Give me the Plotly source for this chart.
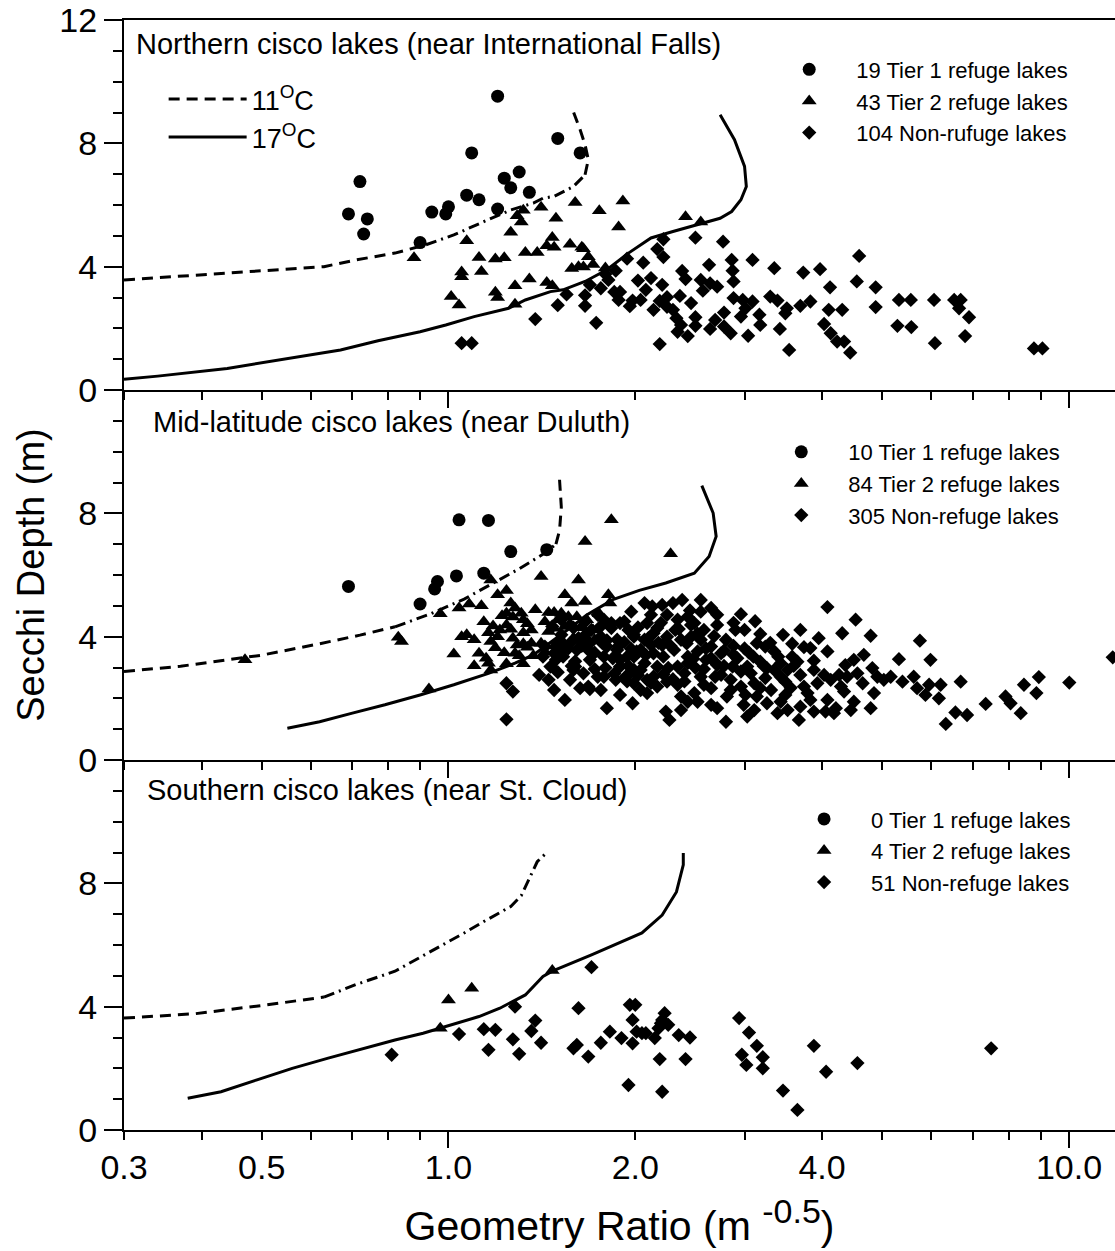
import math
import plotly.graph_objects as go

FONT = "Liberation Sans, Arial, Helvetica, sans-serif"

# ---------------- axis / tick data ----------------
x_min, x_max = 0.3, 11.86
y_min, y_max = 0, 12
x_tick_vals = [0.3, 0.5, 1, 2, 4, 10]
x_tick_text = ["0.3", "0.5", "1.0", "2.0", "4.0", "10.0"]
x_minor_vals = [0.4, 0.6, 0.7, 0.8, 0.9, 3, 5, 6, 7, 8, 9]
x_long_ticks = [1, 10]
y_tick_top = [0, 4, 8, 12]
y_tick_low = [0, 4, 8]

panel_titles = ["Northern cisco lakes (near International Falls)",
                "Mid-latitude cisco lakes (near Duluth)",
                "Southern cisco lakes (near St. Cloud)"]
legend_names = [["19 Tier 1 refuge lakes", "43 Tier 2 refuge lakes", "104 Non-rufuge lakes"],
                ["10 Tier 1 refuge lakes", "84 Tier 2 refuge lakes", "305 Non-refuge lakes"],
                ["0 Tier 1 refuge lakes", "4 Tier 2 refuge lakes", "51 Non-refuge lakes"]]
curve_names = ["11<sup>O</sup>C", "17<sup>O</sup>C"]

# ---------------- TOP panel (Northern) ----------------
top_t1_x = [0.69, 0.72, 0.74, 0.73, 0.94, 0.99, 1.00, 0.90, 1.07, 1.12, 1.09, 1.20, 1.23, 1.26, 1.30, 1.35, 1.20, 1.50, 1.63]
top_t1_y = [5.71, 6.76, 5.55, 5.06, 5.77, 5.71, 5.94, 4.78, 6.32, 6.17, 7.69, 9.53, 6.87, 6.56, 7.07, 6.41, 5.87, 8.16, 7.69]

top_t2_x = [0.88, 1.07, 1.05, 1.12, 1.13, 1.19, 1.23, 1.26, 1.29, 1.32, 1.31, 1.41, 1.49, 1.60, 1.75, 1.91, 1.88,
            1.33, 1.39, 1.44, 1.47, 1.48, 1.57, 1.64, 1.65, 1.68, 1.58, 1.62, 1.65, 1.71, 1.01, 1.04, 1.19, 1.20,
            1.28, 1.35, 1.44, 1.47, 1.28, 2.41, 2.55, 1.79, 1.05]
top_t2_y = [4.29, 4.84, 3.83, 4.30, 3.84, 4.25, 4.29, 5.12, 5.65, 5.83, 5.45, 5.93, 5.57, 6.08, 5.81, 6.13, 5.29,
            4.46, 4.46, 4.68, 4.95, 4.63, 4.73, 4.63, 4.58, 4.32, 3.94, 4.00, 3.99, 4.07, 3.03, 2.76, 3.17, 3.00,
            3.38, 3.60, 3.49, 3.38, 2.78, 5.62, 5.45, 3.96, 3.67]

top_nr_x = [1.05, 1.09, 1.38, 1.50, 1.55, 1.66, 1.66, 1.73, 1.76, 1.79, 1.86, 1.85, 1.89, 1.96, 1.94,
            2.22, 2.17, 2.22, 2.50, 2.77, 2.06, 2.02, 2.12, 2.21, 1.98, 2.19, 2.25, 2.36, 2.25, 2.30, 2.33,
            2.34, 2.43, 2.19, 2.38, 2.41, 2.63, 2.57, 2.64, 2.71, 2.50, 2.50, 2.64, 2.78, 2.86, 2.87, 2.88,
            3.09, 2.88, 3.01, 2.96, 3.09, 2.78, 2.85, 3.04, 3.17, 3.35, 3.30, 3.39, 3.51, 3.49, 3.42, 3.54,
            3.69, 3.83, 3.73, 3.97, 4.12, 4.10, 4.31, 4.03, 4.13, 4.23, 4.34, 4.44, 4.59, 4.55, 4.88, 4.88,
            5.32, 5.56, 6.06, 6.53, 6.69, 6.65, 6.90, 5.29, 5.57, 6.80, 6.08, 8.78, 9.06,
            1.69, 1.81, 2.08, 2.14, 2.46, 2.69, 3.18, 1.88, 2.04, 2.55, 2.98, 2.37]
top_nr_y = [1.52, 1.52, 2.30, 2.75, 3.10, 3.07, 2.73, 2.18, 3.30, 3.76, 3.87, 3.18, 3.18, 2.72, 4.26,
            4.89, 4.57, 4.31, 4.94, 4.81, 4.13, 3.55, 3.63, 3.41, 2.90, 2.89, 3.01, 3.05, 2.70, 2.60, 2.33,
            1.89, 1.75, 1.49, 3.86, 3.60, 4.06, 3.22, 3.46, 3.35, 2.36, 2.08, 1.98, 2.51, 4.22, 3.87, 3.52,
            4.22, 2.98, 2.65, 2.38, 2.87, 2.06, 1.84, 1.76, 2.44, 3.95, 3.03, 2.90, 2.65, 2.49, 1.98, 1.30,
            2.73, 2.87, 3.81, 3.92, 3.33, 2.60, 2.60, 2.14, 1.84, 1.57, 1.57, 1.21, 4.35, 3.52, 3.33, 2.69,
            2.92, 2.92, 2.92, 2.92, 2.92, 2.65, 2.36, 2.08, 2.04, 1.75, 1.52, 1.35, 1.35,
            3.41, 3.57, 3.25, 2.60, 2.82, 2.27, 2.11, 2.92, 2.92, 3.57, 2.92, 2.11]

top_c11_x = [0.30, 0.40, 0.51, 0.63, 0.71, 0.82, 0.92, 1.02, 1.14, 1.26, 1.37, 1.42, 1.48, 1.59, 1.66, 1.68, 1.66, 1.63, 1.59]
top_c11_y = [3.57, 3.73, 3.87, 4.00, 4.22, 4.44, 4.71, 5.03, 5.46, 5.84, 6.06, 6.22, 6.28, 6.60, 6.98, 7.47, 7.95, 8.44, 9.02]
top_c17_x = [0.30, 0.34, 0.44, 0.57, 0.67, 0.77, 0.90, 0.99, 1.10, 1.25, 1.33, 1.46, 1.53, 1.66, 1.80, 1.95, 2.12,
             2.30, 2.56, 2.74, 2.86, 2.96, 3.02, 3.00, 2.89, 2.74]
top_c17_y = [0.35, 0.45, 0.70, 1.08, 1.30, 1.60, 1.89, 2.11, 2.38, 2.65, 2.92, 3.19, 3.25, 3.52, 3.90, 4.44, 4.93,
             5.14, 5.39, 5.57, 5.79, 6.17, 6.60, 7.25, 8.12, 8.93]

# ---------------- MIDDLE panel (Duluth) ----------------
mid_t1_x = [0.69, 0.90, 0.95, 0.96, 1.03, 1.04, 1.16, 1.14, 1.26, 1.44]
mid_t1_y = [5.63, 5.06, 5.55, 5.79, 5.97, 7.79, 7.77, 6.06, 6.76, 6.82]

mid_t2_x = [0.47, 0.83, 0.84, 0.93, 0.97, 1.02, 1.05, 1.07, 1.10, 1.10, 1.04, 1.08, 1.13, 1.17, 1.20, 1.24,
            1.16, 1.20, 1.17, 1.12, 1.15, 1.16, 1.17, 1.23, 1.22, 1.24, 1.26, 1.28, 1.31, 1.32, 1.24, 1.26,
            1.27, 1.32, 1.36, 1.29, 1.32, 1.34, 1.36, 1.28, 1.30, 1.41, 1.54, 1.58, 1.66, 1.62, 1.66, 1.83,
            1.81, 1.45, 1.48, 1.52, 1.56, 1.48, 1.54, 1.45, 1.41, 2.28, 1.82, 1.61, 1.67,
            1.14, 1.18, 1.21, 1.27, 1.34, 1.38, 1.43, 1.50, 1.57, 1.63, 1.71, 1.75, 1.79, 1.72, 1.65, 1.59,
            1.53, 1.48, 1.43, 1.37, 1.32, 1.24, 1.19]
mid_t2_y = [3.25, 3.98, 3.84, 2.30, 4.74, 3.44, 4.00, 4.06, 3.90, 3.06, 4.93, 5.06, 5.00, 5.84, 5.36, 5.50,
            4.13, 4.00, 3.84, 3.46, 3.30, 3.14, 2.92, 3.48, 4.68, 4.76, 5.09, 4.93, 4.76, 4.55, 4.38, 4.24,
            3.95, 4.13, 4.22, 3.73, 3.77, 3.66, 3.79, 3.46, 3.38, 5.95, 5.36, 5.09, 5.14, 5.84, 7.09, 7.79,
            5.36, 4.78, 4.78, 4.76, 4.65, 4.27, 4.33, 4.17, 3.79, 6.69, 5.09, 4.65, 4.55,
            4.48, 4.35, 4.22, 4.64, 4.42, 4.87, 4.48, 4.55, 4.42, 4.29, 4.22, 4.74, 4.42, 3.90, 3.73, 3.96,
            3.83, 3.70, 3.51, 3.38, 3.12, 3.12, 3.64]

mid_nr_x = [1.24, 1.27, 1.24, 1.40, 1.45, 1.48, 1.63, 1.69, 1.80, 1.98, 1.74, 1.86, 1.95, 1.74, 1.42, 1.48,
            1.53, 1.57, 1.63, 1.69, 1.83, 1.92, 1.87, 1.99, 1.59, 1.65, 1.78, 1.89, 1.99, 1.46, 1.49, 1.60,
            1.53, 1.43, 1.68, 1.77, 1.70, 1.62, 1.47, 2.24, 2.27, 2.80, 1.68,
            4.08, 4.53, 2.96, 3.00, 3.18, 3.14, 3.46, 3.69, 3.95, 4.31, 4.79, 5.75, 2.88, 3.05, 3.58, 3.74,
            3.83, 4.08, 3.58, 3.65, 3.88, 5.32, 5.98, 4.36, 4.50, 4.67, 4.82, 11.76, 3.18, 3.26, 2.87, 2.96,
            2.65, 2.71, 2.69, 3.07, 3.35, 3.43, 3.49, 3.69, 3.88, 4.03, 4.13, 4.26, 4.39, 4.56, 4.65, 4.91,
            5.03, 5.16, 5.39, 5.62, 5.69, 5.95, 6.21, 5.87, 6.17, 6.69, 8.46, 8.94, 10.01, 8.86, 7.34, 7.90,
            8.05, 8.36, 6.56, 6.85, 6.33, 4.85, 4.34, 4.50, 4.79, 4.21, 4.08, 3.88, 3.69, 3.67, 3.83, 3.79,
            3.49, 3.43, 3.26, 3.14, 2.99, 2.65, 2.71, 2.49, 2.09, 1.93, 2.04, 2.14, 2.25, 2.40, 2.55, 2.58,
            2.65, 2.85, 2.96, 3.11, 3.18, 2.07, 2.13, 2.21, 2.30, 2.38, 2.55, 2.65, 2.71, 2.43, 2.49, 2.25,
            2.34, 2.09, 2.17, 1.89, 1.83, 1.99, 2.07, 2.14, 2.25, 2.37, 2.46, 2.58, 2.71, 2.65, 2.75, 2.52,
            2.43, 2.31, 2.22, 2.14, 2.01, 1.94, 1.87, 1.80, 2.07, 1.99, 1.89, 2.34, 2.43, 2.17, 1.76, 1.78,
            1.99, 2.09, 2.17, 2.34, 2.37, 2.43, 2.81, 2.88, 3.03, 3.43, 3.24, 3.35, 3.52, 3.93, 3.74, 4.29,
            4.05, 4.18, 4.45, 3.52, 3.39, 3.11, 3.03, 2.52, 2.37,
            1.52, 1.59, 1.66, 1.75, 1.52, 1.61, 1.69, 1.79, 1.88, 1.95, 2.04, 2.12, 2.21, 2.32, 2.46, 2.55,
            2.60, 2.50, 2.26, 2.04, 1.89, 1.76, 1.57, 1.54, 2.80, 2.90, 2.75, 2.85, 3.01, 3.31, 3.56, 3.24,
            2.12, 1.97, 2.55,
            1.50, 1.56, 1.64, 1.72, 1.80, 1.84, 1.92, 1.97, 2.02, 2.10, 2.18, 2.28, 2.35, 2.42, 2.52, 2.60,
            2.68, 2.78, 1.60, 1.72, 1.85, 1.94, 2.02, 2.12, 2.22, 2.30, 2.40, 2.48, 2.58, 2.68, 2.78, 2.92,
            3.00, 3.10, 3.22, 3.30, 1.67, 1.78, 1.58, 1.50, 2.20, 2.45, 2.88, 3.12, 3.40, 3.60, 1.95, 2.08]
mid_nr_y = [2.49, 2.22, 1.32, 2.76, 2.60, 2.27, 2.33, 2.30, 1.68, 1.84, 2.70, 2.60, 2.76, 4.71, 3.35, 3.46,
            3.35, 3.79, 3.90, 3.79, 4.44, 4.49, 3.90, 4.00, 2.92, 2.81, 3.35, 3.25, 3.35, 3.03, 3.25, 3.03,
            3.57, 3.68, 3.57, 3.79, 4.22, 3.95, 4.33, 1.57, 1.30, 1.24, 2.38,
            4.96, 4.55, 4.73, 4.22, 4.09, 3.79, 4.06, 4.22, 3.95, 4.11, 4.03, 3.87, 3.70, 3.48, 3.77, 3.66,
            3.63, 3.52, 3.35, 3.19, 3.22, 3.27, 3.25, 3.08, 3.25, 3.41, 2.98, 3.33, 3.19, 2.98, 3.03, 2.87,
            3.30, 3.08, 2.70, 2.81, 2.92, 2.70, 2.54, 2.76, 2.92, 2.76, 2.60, 2.76, 2.70, 2.81, 2.49, 2.70,
            2.60, 2.70, 2.54, 2.70, 2.33, 2.44, 2.44, 2.11, 2.00, 2.54, 2.44, 2.69, 2.51, 2.17, 1.82, 2.06,
            1.84, 1.52, 1.54, 1.46, 1.17, 2.17, 2.22, 1.89, 1.68, 1.68, 1.95, 1.57, 1.73, 1.30, 1.95, 2.17,
            2.11, 1.89, 1.84, 2.06, 1.79, 1.79, 1.68, 2.17, 2.17, 2.70, 2.92, 2.70, 2.54, 2.81, 2.70, 2.44,
            2.33, 2.60, 2.38, 2.49, 2.33, 5.09, 4.98, 5.03, 5.09, 5.19, 4.81, 4.93, 4.71, 4.65, 4.44, 4.71,
            4.55, 4.44, 4.28, 4.44, 4.28, 4.06, 3.90, 4.11, 4.00, 3.90, 4.00, 4.22, 4.38, 3.68, 3.46, 3.52,
            3.35, 3.57, 3.35, 3.46, 3.52, 3.35, 3.57, 3.68, 3.14, 2.92, 3.03, 3.03, 3.14, 3.03, 4.00, 2.70,
            2.49, 2.60, 2.38, 2.44, 2.06, 1.89, 2.06, 3.41, 3.03, 3.14, 3.68, 3.52, 2.92, 2.49, 2.38, 2.38,
            1.57, 1.52, 1.62, 1.62, 1.52, 1.62, 1.41, 1.89, 1.62,
            4.55, 4.29, 4.48, 4.29, 4.06, 3.57, 3.25, 2.99, 3.70, 4.22, 3.57, 3.73, 3.73, 4.22, 4.38, 3.90,
            3.25, 2.99, 2.99, 2.27, 2.11, 2.27, 2.60, 1.95, 3.90, 4.22, 2.76, 2.27, 2.11, 2.27, 2.34, 2.66,
            4.71, 4.81, 5.19,
            3.80, 3.62, 3.70, 3.48, 3.88, 3.30, 3.82, 3.60, 4.30, 3.95, 3.80, 3.70, 4.25, 3.78, 4.10, 3.62,
            4.02, 3.55, 3.20, 2.95, 2.80, 2.55, 2.75, 2.50, 2.78, 2.62, 2.55, 3.28, 2.95, 3.20, 3.05, 3.30,
            3.62, 3.35, 3.05, 3.80, 4.10, 4.55, 3.05, 2.85, 4.45, 4.85, 4.45, 4.50, 3.35, 3.05, 3.05, 3.40]

mid_c11_x = [0.30, 0.37, 0.44, 0.50, 0.62, 0.72, 0.82, 0.93, 1.06, 1.18, 1.30, 1.44, 1.49, 1.51, 1.52, 1.51]
mid_c11_y = [2.87, 3.04, 3.25, 3.40, 3.77, 4.05, 4.32, 4.72, 5.22, 5.74, 6.20, 6.75, 7.00, 7.45, 8.20, 9.09]
mid_c17_x = [0.55, 0.62, 0.70, 0.79, 0.90, 1.02, 1.16, 1.28, 1.37, 1.48, 1.57, 1.67, 1.84, 2.03, 2.24, 2.49,
             2.63, 2.70, 2.67, 2.56]
mid_c17_y = [1.03, 1.24, 1.52, 1.79, 2.11, 2.44, 2.81, 3.14, 3.41, 3.90, 4.28, 4.70, 5.20, 5.50, 5.74, 6.06,
             6.60, 7.25, 8.01, 8.90]

# ---------------- BOTTOM panel (St. Cloud) ----------------
bot_t1_x = []
bot_t1_y = []
bot_t2_x = [1.00, 1.09, 0.97, 1.47]
bot_t2_y = [4.22, 4.60, 3.30, 5.17]
bot_nr_x = [0.81, 1.04, 1.14, 1.19, 1.16, 1.28, 1.27, 1.30, 1.36, 1.38, 1.41, 1.59, 1.61, 1.62, 1.68, 1.76,
            1.82, 1.70, 1.90, 1.96, 2.00, 1.98, 1.98, 2.01, 2.08, 2.15, 2.20, 2.23, 2.21, 2.18, 2.19, 2.35,
            2.45, 2.41, 1.95, 2.21, 2.94, 3.05, 3.14, 2.97, 3.21, 3.02, 3.21, 3.46, 3.88, 4.06, 4.56, 7.49,
            3.65, 2.05, 2.26]
bot_nr_y = [2.44, 3.11, 3.27, 3.25, 2.60, 4.00, 2.94, 2.47, 3.21, 3.55, 2.83, 2.65, 2.76, 3.95, 2.38, 2.83,
            3.19, 5.28, 2.98, 4.06, 4.06, 3.57, 2.81, 3.19, 3.14, 2.98, 3.46, 3.79, 3.57, 3.30, 2.30, 3.08,
            3.00, 2.30, 1.46, 1.24, 3.63, 3.16, 2.73, 2.44, 2.36, 2.11, 2.00, 1.28, 2.73, 1.89, 2.17, 2.65,
            0.65, 3.14, 3.41]

bot_c11_x = [0.30, 0.39, 0.51, 0.63, 0.71, 0.82, 0.93, 0.98, 1.06, 1.14, 1.26, 1.31, 1.34, 1.39, 1.44]
bot_c11_y = [3.63, 3.77, 4.06, 4.31, 4.72, 5.15, 5.75, 6.00, 6.39, 6.76, 7.25, 7.60, 8.00, 8.70, 9.00]
bot_c17_x = [0.38, 0.43, 0.49, 0.56, 0.64, 0.73, 0.82, 0.91, 1.01, 1.12, 1.21, 1.33, 1.42, 1.47, 1.70, 2.05,
             2.21, 2.33, 2.39, 2.39]
bot_c17_y = [1.03, 1.24, 1.62, 2.00, 2.33, 2.65, 2.92, 3.14, 3.41, 3.68, 3.95, 4.38, 4.98, 5.15, 5.68, 6.39,
             6.97, 7.72, 8.60, 8.98]

# ---------------- styling ----------------
DASH = "11px,7px"
DASHDOT = "11px,5px,2px,5px"
c11_segments = [  # (start, end, dash) index ranges of the 11 C curve per panel
    [(0, 6, DASH), (6, 14, DASHDOT), (14, 18, DASH)],
    [(0, 6, DASH), (6, 12, DASHDOT), (12, 15, DASH)],
    [(0, 3, DASH), (3, 14, DASHDOT)],
]

panels = [
    dict(xa="x", ya="y", leg="legend2",
         t1=(top_t1_x, top_t1_y), t2=(top_t2_x, top_t2_y), nr=(top_nr_x, top_nr_y),
         c11=(top_c11_x, top_c11_y), c17=(top_c17_x, top_c17_y)),
    dict(xa="x2", ya="y2", leg="legend3",
         t1=(mid_t1_x, mid_t1_y), t2=(mid_t2_x, mid_t2_y), nr=(mid_nr_x, mid_nr_y),
         c11=(mid_c11_x, mid_c11_y), c17=(mid_c17_x, mid_c17_y)),
    dict(xa="x3", ya="y3", leg="legend4",
         t1=(bot_t1_x, bot_t1_y), t2=(bot_t2_x, bot_t2_y), nr=(bot_nr_x, bot_nr_y),
         c11=(bot_c11_x, bot_c11_y), c17=(bot_c17_x, bot_c17_y)),
]

fig = go.Figure()
LW = 3
for i, p in enumerate(panels):
    cx, cy = p["c11"]
    for k, (s, e, d) in enumerate(c11_segments[i]):
        fig.add_trace(go.Scatter(
            x=cx[s:e + 1], y=cy[s:e + 1], mode="lines", xaxis=p["xa"], yaxis=p["ya"],
            line=dict(color="black", width=LW, dash=d),
            name=curve_names[0], legend="legend", legendgroup="c11",
            showlegend=(i == 0 and k == 0), hoverinfo="skip"))
    cx, cy = p["c17"]
    fig.add_trace(go.Scatter(
        x=cx, y=cy, mode="lines", xaxis=p["xa"], yaxis=p["ya"],
        line=dict(color="black", width=LW),
        name=curve_names[1], legend="legend", legendgroup="c17",
        showlegend=(i == 0), hoverinfo="skip"))
    for key, sym, size, nm in [("t1", "circle", 13, legend_names[i][0]),
                               ("t2", "triangle-up", 13, legend_names[i][1]),
                               ("nr", "diamond", 11, legend_names[i][2])]:
        xs, ys = p[key]
        if len(xs) == 0:          # keep the legend entry of an empty group
            xs, ys = [None], [None]
        fig.add_trace(go.Scatter(
            x=xs, y=ys, mode="markers", xaxis=p["xa"], yaxis=p["ya"],
            marker=dict(symbol=sym, size=size, color="black", line=dict(width=0)),
            name=nm, legend=p["leg"], showlegend=True))

# dummy traces so the overlay axes (long decade ticks) get drawn
for xa, ya in [("x4", "y"), ("x5", "y2"), ("x6", "y3")]:
    fig.add_trace(go.Scatter(x=[], y=[], xaxis=xa, yaxis=ya, showlegend=False, hoverinfo="skip"))

xr = [math.log10(x_min), math.log10(x_max)]
tickfont = dict(family=FONT, size=34, color="black")


def xaxis(anchor, labels):
    return dict(type="log", range=xr, anchor=anchor, domain=[0, 1], automargin=False,
                tickmode="array", tickvals=x_tick_vals, ticktext=x_tick_text,
                showticklabels=labels, ticks="outside", ticklen=8, tickwidth=1.5,
                tickcolor="black", showline=True, linecolor="black", linewidth=2,
                showgrid=False, zeroline=False, tickfont=tickfont, ticklabelstandoff=-2,
                minor=dict(tickmode="array", tickvals=x_minor_vals, ticks="outside", ticklen=8,
                           tickwidth=1.5, tickcolor="black", showgrid=False))


def xover(over, anchor):
    return dict(type="log", range=xr, overlaying=over, anchor=anchor, automargin=False,
                tickmode="array", tickvals=x_long_ticks, showticklabels=False,
                ticks="outside", ticklen=17, tickwidth=1.5, tickcolor="black",
                showline=False, showgrid=False, zeroline=False)


def yaxis(domain, tv, anchor):
    return dict(range=[y_min, y_max], domain=domain, anchor=anchor, automargin=False,
                tickmode="array", tickvals=tv, ticks="outside", ticklen=18, tickwidth=1.5,
                tickcolor="black", showline=True, linecolor="black", linewidth=2,
                showgrid=False, zeroline=False, tickfont=tickfont,
                minor=dict(dtick=1, tick0=0, ticks="outside", ticklen=9, tickwidth=1.5,
                           tickcolor="black", showgrid=False))


ax_top = xaxis("y", False)
ax_top["mirror"] = True
ax_bot = xaxis("y3", True)
ax_bot["title"] = dict(
    text="Geometry Ratio (m <sup><span style='font-size:34px'>-0.5</span></sup>)",
    font=dict(family=FONT, size=41, color="black"), standoff=27)

y1 = yaxis([2 / 3, 1], y_tick_top, "x")
y2 = yaxis([1 / 3, 2 / 3], y_tick_low, "x2")
y2["title"] = dict(text="Secchi Depth (m)", font=dict(family=FONT, size=38, color="black"),
                   standoff=22)
y3 = yaxis([0, 1 / 3], y_tick_low, "x3")

leg_common = dict(bgcolor="rgba(0,0,0,0)", borderwidth=0, xanchor="left", yanchor="top",
                  tracegroupgap=0, orientation="v")

annotations = []
for txt, ax_, ay_ in zip(panel_titles, [0.010, 0.027, 0.021], [0.978, 0.638, 0.306]):
    annotations.append(dict(text=txt, x=ax_, y=ay_, xref="paper", yref="paper",
                            xanchor="left", yanchor="middle", showarrow=False,
                            font=dict(family=FONT, size=29, color="black")))

fig.update_layout(
    width=1115, height=1251,
    margin=dict(l=124, r=0, t=20, b=121, autoexpand=False),
    paper_bgcolor="white", plot_bgcolor="white",
    font=dict(family=FONT, color="black"),
    xaxis=ax_top, xaxis2=xaxis("y2", False), xaxis3=ax_bot,
    xaxis4=xover("x", "y"), xaxis5=xover("x2", "y2"), xaxis6=xover("x3", "y3"),
    yaxis=y1, yaxis2=y2, yaxis3=y3,
    legend=dict(x=0.040, y=0.9505, itemwidth=78, font=dict(family=FONT, size=27, color="black"),
                **leg_common),
    legend2=dict(x=0.644, y=0.9743, itemwidth=84, font=dict(family=FONT, size=22, color="black"),
                 **leg_common),
    legend3=dict(x=0.636, y=0.6297, itemwidth=84, font=dict(family=FONT, size=22, color="black"),
                 **leg_common),
    legend4=dict(x=0.659, y=0.2990, itemwidth=84, font=dict(family=FONT, size=22, color="black"),
                 **leg_common),
    annotations=annotations,
    showlegend=True,
)

# the page body gets no default 8px margin, so the figure fills the window exactly
fig.write_html("out.html",
               config={"displayModeBar": False},
               post_script="document.body.style.margin='0px';document.body.style.overflow='hidden';")
